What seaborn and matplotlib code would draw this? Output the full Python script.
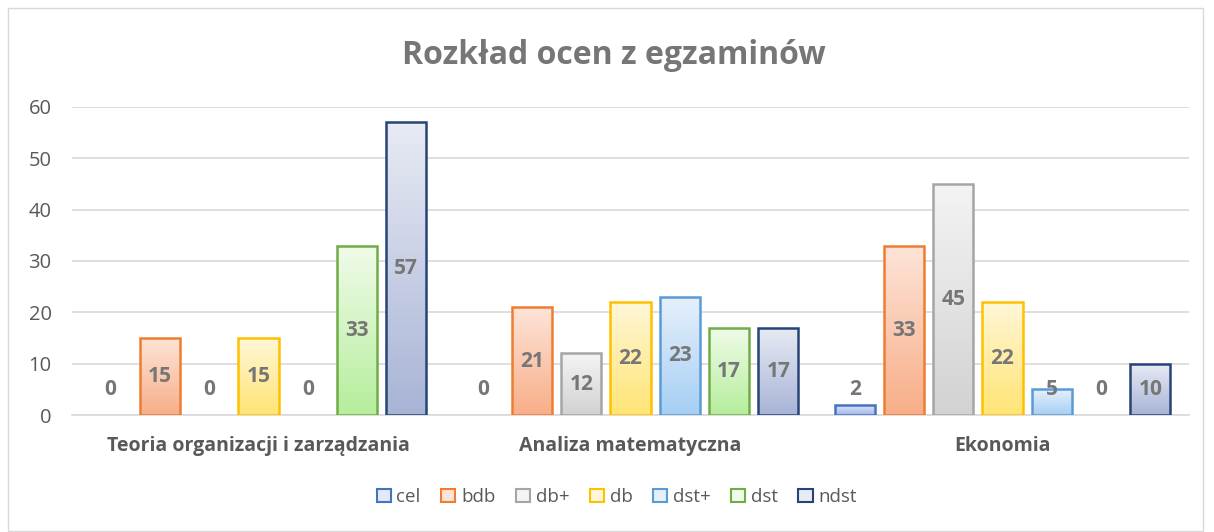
import numpy as np
import pandas as pd
import matplotlib
matplotlib.use("Agg")
import matplotlib.pyplot as plt
import seaborn as sns
from matplotlib.patches import Patch, Rectangle
from matplotlib.colors import LinearSegmentedColormap

# dane
przedmioty = ["Teoria organizacji i zarządzania", "Analiza matematyczna", "Ekonomia"]
oceny = ["cel", "bdb", "db+", "db", "dst+", "dst", "ndst"]
cel = [0, 0, 2]
bdb = [15, 21, 33]
db_plus = [0, 12, 45]
db = [15, 22, 22]
dst_plus = [0, 23, 5]
dst = [33, 17, 0]
ndst = [57, 17, 10]

# kolory: obrys, gora gradientu, dol gradientu
kolory = {
    "cel": ("#4472C4", "#e4e9f8", "#a3b6ec"),
    "bdb": ("#ED7D31", "#fde4d8", "#f8ae88"),
    "db+": ("#A5A5A5", "#f4f4f4", "#d2d2d2"),
    "db": ("#FFC000", "#fff7d8", "#ffe474"),
    "dst+": ("#5B9BD5", "#e6f0fb", "#a6cff4"),
    "dst": ("#70AD47", "#f0fbe9", "#b5ee9c"),
    "ndst": ("#264478", "#e8ebf4", "#a8b4d6"),
}

wartosci = [cel, bdb, db_plus, db, dst_plus, dst, ndst]
df = pd.DataFrame(
    [(p, o, w[i]) for o, w in zip(oceny, wartosci) for i, p in enumerate(przedmioty)],
    columns=["przedmiot", "ocena", "liczba"],
)

plt.rcParams["font.family"] = ["Open Sans", "DejaVu Sans"]
szary = "#595959"

fig = plt.figure(figsize=(12.14, 5.32), dpi=100)
ax = fig.add_axes([0.0597, 0.2199, 0.9193, 0.579])

sns.barplot(
    data=df, x="przedmiot", y="liczba", hue="ocena",
    order=przedmioty, hue_order=oceny,
    palette={o: kolory[o][2] for o in oceny},
    width=0.927, gap=0.18, legend=False, ax=ax, zorder=3,
)

# gradientowe wypelnienie slupkow + etykiety
for o, kont in zip(oceny, ax.containers):
    obrys, gora, dol = kolory[o]
    cmap = LinearSegmentedColormap.from_list(o, [dol, gora])
    for bar in kont:
        h = bar.get_height()
        x0 = bar.get_x()
        w = bar.get_width()
        if h <= 0:
            bar.set_visible(False)
        else:
            bar.set_facecolor("none")
            bar.set_edgecolor(obrys)
            bar.set_linewidth(1.8)
            bar.set_zorder(4)
            grad = np.linspace(0, 1, 256).reshape(-1, 1)
            im = ax.imshow(grad, cmap=cmap, origin="lower", aspect="auto",
                           extent=[x0, x0 + w, 0, h], zorder=3)
            im.set_clip_path(bar)
        ax.text(x0 + w / 2, max(h / 2, 4.9), str(int(h)), ha="center", va="center",
                fontsize=15, fontweight="bold", color="#767676", zorder=5)

ax.set_xlim(-0.5, 2.5)
ax.set_ylim(0, 60)
ax.set_yticks(range(0, 61, 10))
ax.grid(axis="y", color="#d9d9d9", linewidth=1.2, zorder=0)
ax.set_axisbelow(True)
for s in ["top", "right", "left"]:
    ax.spines[s].set_visible(False)
ax.spines["bottom"].set_color("#d9d9d9")
ax.spines["bottom"].set_linewidth(1.2)
ax.tick_params(axis="y", length=0, pad=15, labelsize=14.5, labelcolor=szary)
ax.tick_params(axis="x", length=0, pad=15, labelsize=14, labelcolor=szary)
for t in ax.get_xticklabels():
    t.set_fontweight("bold")
ax.set_xlabel("")
ax.set_ylabel("")

fig.text(0.506, 1 - 55 / 532, "Rozkład ocen z egzaminów", ha="center", va="center",
         fontsize=23, fontweight="bold", color="#767676")

uchwyty = [Patch(facecolor=kolory[o][1], edgecolor=kolory[o][0], linewidth=1.5, label=o) for o in oceny]
fig.legend(handles=uchwyty, loc="center", bbox_to_anchor=(0.508, 1 - 497 / 532), ncol=7,
           frameon=False, fontsize=13.5, labelcolor=szary, handlelength=0.75, handleheight=0.75,
           handletextpad=0.3, columnspacing=1.1)

# ramka wykresu
fig.add_artist(Rectangle((8 / 1214, 1 / 532), 1195 / 1214, 523 / 532, transform=fig.transFigure,
                         fill=False, edgecolor="#d9d9d9", linewidth=1))

fig.savefig("out.png", dpi=100)
